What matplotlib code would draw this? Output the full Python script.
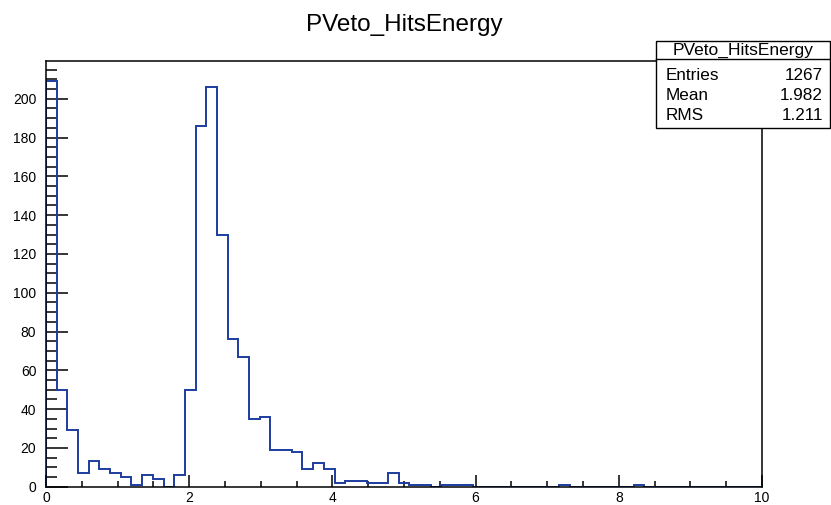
import matplotlib
matplotlib.use("Agg")
import matplotlib.pyplot as plt
import numpy as np
from matplotlib.patches import Rectangle
from matplotlib.ticker import MultipleLocator

plt.rcParams['font.family'] = ['Liberation Sans', 'DejaVu Sans']

# histogram: 67 bins from 0 to 10
title = "PVeto_HitsEnergy"
x_lo, x_hi, n_bins = 0.0, 10.0, 67
counts = [209, 50, 29, 7, 13, 9, 7, 5, 1, 6,
          4, 0, 6, 50, 186, 206, 130, 76, 67, 35,
          36, 19, 19, 18, 9, 12, 9, 2, 3, 3,
          2, 2, 7, 2, 1, 1, 0, 1, 1, 1,
          0, 0, 0, 0, 0, 0, 0, 0, 1, 0,
          0, 0, 0, 0, 0, 1, 0, 0, 0, 0,
          0, 0, 0, 0, 0, 0, 0]
stat_names = ["Entries", "Mean", "RMS"]
stat_values = ["1267", "1.982", "1.211"]

edges = np.linspace(x_lo, x_hi, n_bins + 1)

W, H = 831, 505
fig = plt.figure(figsize=(W / 100, H / 100), dpi=100)
ax = fig.add_axes([46 / W, 1 - 486.7 / H, (762 - 46) / W, (486.7 - 61) / H])

ax.stairs(counts, edges, color="#1c3c9e", lw=1.4, baseline=0, zorder=2)

ax.set_xlim(x_lo, x_hi)
ax.set_ylim(0, max(counts) * 1.05)

ax.xaxis.set_major_locator(MultipleLocator(2))
ax.xaxis.set_minor_locator(MultipleLocator(0.5))
ax.yaxis.set_major_locator(MultipleLocator(20))
ax.yaxis.set_minor_locator(MultipleLocator(5))

ax.tick_params(axis="both", which="both", direction="in", top=False, right=False,
               width=1.1, color="black", labelsize=10)
ax.tick_params(axis="y", which="major", length=16, pad=7)
ax.tick_params(axis="y", which="minor", length=8)
ax.tick_params(axis="x", which="major", length=8.5, pad=3)
ax.tick_params(axis="x", which="minor", length=4.3)
for s in ax.spines.values():
    s.set_linewidth(1.1)

fig.text(404 / W, 1 - 25 / H, title, ha="center", va="center", fontsize=17.5)

# stats box
bx0, bx1, by0, by1, bsep = 655.7, 830, 40.7, 127.7, 59.3
fig.patches.append(Rectangle((bx0 / W, 1 - by1 / H), (bx1 - bx0) / W, (by1 - by0) / H,
                             transform=fig.transFigure, facecolor="white",
                             edgecolor="black", lw=1.0, zorder=5))
fig.lines.append(plt.Line2D([bx0 / W, bx1 / W], [1 - bsep / H] * 2,
                            transform=fig.transFigure, color="black", lw=1.0, zorder=6))
fig.text((bx0 + bx1) / 2 / W, 1 - 50 / H, title, ha="center", va="center",
         fontsize=12.5, zorder=7)
for i, (nm, val) in enumerate(zip(stat_names, stat_values)):
    yy = 1 - (75 + 20.5 * i) / H
    fig.text(666 / W, yy, nm, ha="left", va="center", fontsize=12.3, zorder=7)
    fig.text(823 / W, yy, val, ha="right", va="center", fontsize=12.3, zorder=7)

fig.savefig("out.png", dpi=100)
